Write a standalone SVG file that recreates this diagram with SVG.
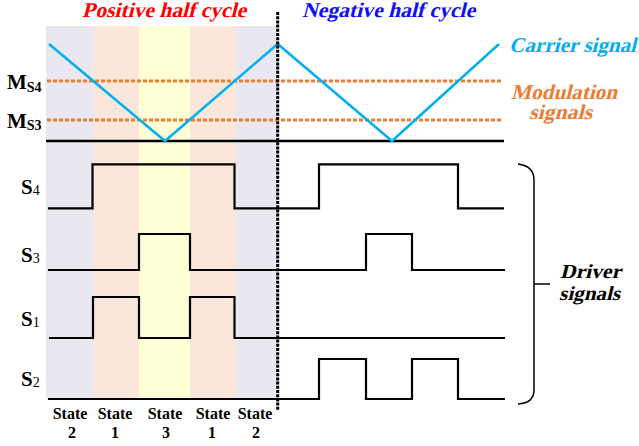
<svg xmlns="http://www.w3.org/2000/svg" width="639" height="446" viewBox="0 0 639 446">
<style>
text{font-family:'Liberation Serif','DejaVu Serif',serif;font-weight:bold}
.sig{fill:none;stroke:#000;stroke-width:2.2;stroke-linejoin:miter}
.mod{fill:none;stroke:#ED7D31;stroke-width:3;stroke-dasharray:4 2}
.st{font-size:16px;text-anchor:middle}
.n{font-weight:normal}
</style>
<rect width="639" height="446" fill="#fff"/>
<g id="bands">
<rect x="46" y="26" width="47" height="373" fill="#EAE7F0"/>
<rect x="93" y="26" width="46" height="373" fill="#FBE7DA"/>
<rect x="139" y="26" width="51" height="373" fill="#FFFFD6"/>
<rect x="190" y="26" width="45" height="373" fill="#FBE7DA"/>
<rect x="235" y="26" width="43" height="373" fill="#EAE7F0"/>
</g>
<g id="titles">
<g transform="translate(82,17) skewX(-14)"><text font-size="21" fill="#FF0000" textLength="164" lengthAdjust="spacingAndGlyphs">Positive half cycle</text></g>
<g transform="translate(302,17) skewX(-14)"><text font-size="21" fill="#1010F0" textLength="173" lengthAdjust="spacingAndGlyphs">Negative half cycle</text></g>
</g>
<g id="carrier-area">
<line x1="46" y1="141" x2="504" y2="141" stroke="#000" stroke-width="2.5"/>
<line class="mod" x1="47" y1="81" x2="502" y2="81"/>
<line class="mod" x1="47" y1="120" x2="502" y2="120"/>
<polyline points="49,44 165,141 277.7,44 392,141 499,44" fill="none" stroke="#00B0F0" stroke-width="2.5" stroke-linejoin="miter"/>
<text x="7" y="89" font-size="21">M<tspan font-size="14" dy="3">S4</tspan></text>
<text x="7" y="128" font-size="21">M<tspan font-size="14" dy="2">S3</tspan></text>
<g transform="translate(509,52) skewX(-14)"><text font-size="21" fill="#00B0F0" textLength="127" lengthAdjust="spacingAndGlyphs">Carrier signal</text></g>
<g transform="translate(511,99) skewX(-14)"><text font-size="21" fill="#ED7D31" textLength="106" lengthAdjust="spacingAndGlyphs">Modulation</text></g>
<g transform="translate(529,119) skewX(-14)"><text font-size="21" fill="#ED7D31" textLength="63" lengthAdjust="spacingAndGlyphs">signals</text></g>
</g>
<g id="drivers">
<path class="sig" d="M48,208.3 H92.5 V164.3 H234.5 V208.3 H319 V164.3 H458 V208.3 H504"/>
<path class="sig" d="M48,270 H139 V234 H190 V270 H366 V234 H412 V270 H505"/>
<path class="sig" d="M49,338 H93 V297 H139 V338 H190 V297 H234.5 V338 H505"/>
<path class="sig" d="M48,399 H319 V359 H366 V399 H412 V359 H458 V399 H505"/>
<text x="21" y="194" font-size="21">S<tspan class="n" font-size="14" dy="1">4</tspan></text>
<text x="21" y="262" font-size="21">S<tspan class="n" font-size="14" dy="1">3</tspan></text>
<text x="21" y="326" font-size="21">S<tspan class="n" font-size="14" dy="1">1</tspan></text>
<text x="21" y="386" font-size="21">S<tspan class="n" font-size="14" dy="1">2</tspan></text>
</g>
<g id="divider">
<line x1="277.7" y1="12" x2="277.7" y2="410" stroke="#000" stroke-width="3" stroke-dasharray="3 1.2"/>
</g>
<g id="brace">
<path d="M518,164 Q534,166 534,180 V390 Q534,403 518,404 M534,284 H550" fill="none" stroke="#000" stroke-width="1.5"/>
<g transform="translate(560,278) skewX(-14)"><text font-size="20" fill="#000" textLength="61" lengthAdjust="spacingAndGlyphs">Driver</text></g>
<g transform="translate(559,300) skewX(-14)"><text font-size="20" fill="#000" textLength="61" lengthAdjust="spacingAndGlyphs">signals</text></g>
</g>
<g id="states">
<text class="st" x="70" y="419">State</text><text class="st" x="72" y="438">2</text>
<text class="st" x="115" y="419">State</text><text class="st" x="115" y="438">1</text>
<text class="st" x="165" y="419">State</text><text class="st" x="166" y="438">3</text>
<text class="st" x="213" y="419">State</text><text class="st" x="212" y="438">1</text>
<text class="st" x="255" y="419">State</text><text class="st" x="256" y="438">2</text>
</g>
</svg>
